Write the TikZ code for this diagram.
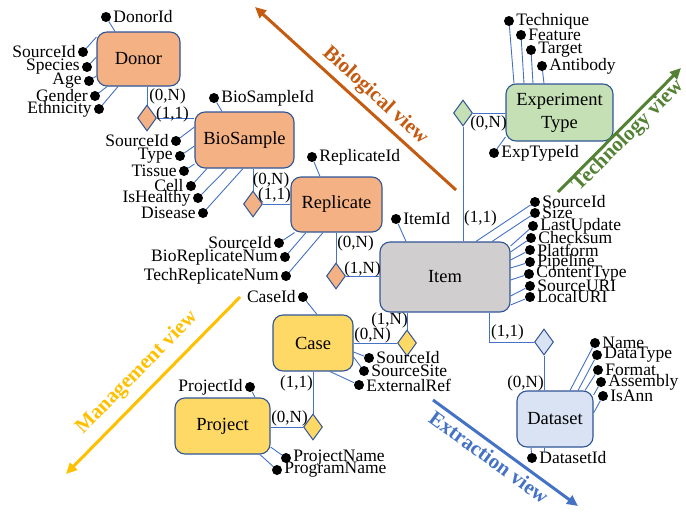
\documentclass[tikz,border=0pt]{standalone}
\usepackage{fontspec}
\setmainfont{Liberation Serif}
\usetikzlibrary{shapes.geometric,arrows.meta}

\definecolor{bord}{RGB}{47,85,151}
\definecolor{connc}{RGB}{68,114,196}
\definecolor{bioC}{RGB}{244,177,131}
\definecolor{itemC}{RGB}{208,206,206}
\definecolor{techC}{RGB}{197,224,180}
\definecolor{mgmtC}{RGB}{255,217,102}
\definecolor{extrC}{RGB}{218,227,243}
\definecolor{bioArrow}{RGB}{197,90,17}
\definecolor{techArrow}{RGB}{84,130,53}
\definecolor{extrArrow}{RGB}{68,114,196}
\definecolor{mgmtArrow}{RGB}{255,192,0}

\begin{document}
\begin{tikzpicture}[x=1pt,y=-1pt,
  entity/.style={rectangle, rounded corners=10pt, draw=bord, line width=1.1pt,
    align=center, font=\fontsize{18.5}{23}\selectfont, inner sep=0pt},
  rel/.style={diamond, draw=bord, line width=1pt, inner sep=0pt,
    minimum width=19pt, minimum height=26pt},
  dot/.style={circle, fill=black, inner sep=0pt, minimum size=10pt},
  attr/.style={font=\fontsize{17.5}{17.5}\selectfont, inner sep=2pt},
  card/.style={font=\fontsize{17}{17}\selectfont, inner sep=0pt},
  conn/.style={draw=connc, line width=0.9pt},
  view/.style={line width=3pt, -{Triangle[length=11pt,width=10pt]}},
  viewlabel/.style={font=\bfseries\fontsize{21}{21}\selectfont, inner sep=0pt}]
\useasboundingbox (0,0) rectangle (686,512);

% ---------- entities ----------
\node[entity, fill=bioC, minimum width=83pt, minimum height=54pt] (donor) at (138.5,59) {Donor};
\node[entity, fill=bioC, minimum width=99pt, minimum height=56pt] (bios) at (244.5,140) {BioSample};
\node[entity, fill=bioC, minimum width=91pt, minimum height=55pt] (repl) at (336.5,204.5) {Replicate};
\node[entity, fill=itemC, minimum width=130pt, minimum height=70pt] (item) at (445,277) {Item};
\node[entity, fill=techC, minimum width=107pt, minimum height=57pt] (expt) at (559.5,112.5) {Experiment\\Type};
\node[entity, fill=extrC, minimum width=76pt, minimum height=56pt] (dset) at (555,419) {Dataset};
\node[entity, fill=mgmtC, minimum width=80pt, minimum height=56pt] (case) at (313,343) {Case};
\node[entity, fill=mgmtC, minimum width=95pt, minimum height=56pt] (proj) at (222.5,426) {Project};

% ---------- relationships ----------
\node[rel, fill=bioC] (r1) at (147,118) {};
\node[rel, fill=bioC] (r2) at (253,204) {};
\node[rel, fill=bioC] (r3) at (336,276) {};
\node[rel, fill=techC] (r4) at (463,113) {};
\node[rel, fill=extrC] (r5) at (544,342) {};
\node[rel, fill=mgmtC] (r6) at (407,343) {};
\node[rel, fill=mgmtC] (r7) at (313,427) {};

\draw[conn] (r1.north) -- (r1.north |- donor.south);
\draw[conn] (r1.east) -- (r1.east -| bios.west);
\draw[conn] (r2.north) -- (r2.north |- bios.south);
\draw[conn] (r2.east) -- (r2.east -| repl.west);
\draw[conn] (r3.north) -- (r3.north |- repl.south);
\draw[conn] (r3.east) -- (r3.east -| item.west);
\draw[conn] (r4.east) -- (r4.east -| expt.west);
\draw[conn] (r4.south) -- (r4.south |- item.north);
\draw[conn] (r5.west) -| ([xshift=44pt]item.south);
\draw[conn] (r5.south) -- (r5.south |- dset.north);
\draw[conn] (r6.west) -- (r6.west -| case.east);
\draw[conn] (r6.north) -- (r6.north |- item.south);
\draw[conn] (r7.north) -- (r7.north |- case.south);
\draw[conn] (r7.west) -- (r7.west -| proj.east);

% ---------- cardinalities ----------
\node[card] (c1a) at (167.5,96) {(0,N)};
\node[card] (c1b) at (172.5,114) {(1,1)};
\node[card] (c2a) at (271,180) {(0,N)};
\node[card] (c2b) at (274.5,195) {(1,1)};
\node[card] (c3a) at (355.5,243) {(0,N)};
\node[card] (c3b) at (362.5,269) {(1,N)};
\node[card] (c4a) at (488.5,123) {(0,N)};
\node[card] (c4b) at (480.5,218) {(1,1)};
\node[card] (c5a) at (507.5,332) {(1,1)};
\node[card] (c5b) at (525.5,383) {(0,N)};
\node[card] (c6a) at (372.5,335) {(0,N)};
\node[card] (c6b) at (389.5,320) {(1,N)};
\node[card] (c7a) at (296.5,383) {(1,1)};
\node[card] (c7b) at (289.5,418) {(0,N)};

% ---------- Donor attributes ----------
\node[dot, label={[attr]right:DonorId}] (d1) at (106,17) {};
\node[dot, label={[attr]left:SourceId}] (d2) at (83,52) {};
\node[dot, label={[attr]left:Species}] (d3) at (87,67) {};
\node[dot, label={[attr]left:Age}] (d4) at (89,81) {};
\node[dot, label={[attr]left:Gender}] (d5) at (95,96) {};
\node[dot, label={[attr]left:Ethnicity}] (d6) at (99,109) {};
\draw[conn] (d1) -- ([xshift=-23.5pt]donor.north);
\draw[conn] (d2) -- ([yshift=22pt]donor.west);
\draw[conn] (d3) -- ([yshift=2pt]donor.west);
\draw[conn] (d4) -- ([yshift=-17pt]donor.west);
\draw[conn] (d5) -- ([xshift=-31.5pt]donor.south);
\draw[conn] (d6) -- ([xshift=-20.5pt]donor.south);

% ---------- BioSample attributes ----------
\node[dot, label={[attr]right:BioSampleId}] (b1) at (214,98) {};
\node[dot, label={[attr]left:SourceId}] (b2) at (176,141) {};
\node[dot, label={[attr]left:Type}] (b3) at (180,156) {};
\node[dot, label={[attr]left:Tissue}] (b4) at (184,171) {};
\node[dot, label={[attr]left:Cell}] (b5) at (191,186) {};
\node[dot, label={[attr]left:IsHealthy}] (b6) at (198,198) {};
\node[dot, label={[attr]left:Disease}] (b7) at (203,213) {};
\draw[conn] (b1) -- ([xshift=-22.5pt]bios.north);
\draw[conn] (b2) -- ([yshift=13pt]bios.west);
\draw[conn] (b3) -- ([yshift=-6pt]bios.west);
\draw[conn] (b4) -- ([yshift=-24pt]bios.west);
\draw[conn] (b5) -- ([xshift=-37.5pt]bios.south);
\draw[conn] (b6) -- ([xshift=-17.5pt]bios.south);
\draw[conn] (b7) -- ([xshift=-1.5pt]bios.south);

% ---------- Replicate attributes ----------
\node[dot, label={[attr]right:ReplicateId}] (p1) at (312,157) {};
\node[dot, label={[attr]left:SourceId}] (p2) at (279,243) {};
\node[dot, label={[attr]left:BioReplicateNum}] (p3) at (285,257) {};
\node[dot, label={[attr]left:TechReplicateNum}] (p4) at (286,276) {};
\draw[conn] (p1) -- ([xshift=-16.5pt]repl.north);
\draw[conn] (p2) -- ([xshift=-42pt]repl.south);
\draw[conn] (p3) -- ([xshift=-30.5pt]repl.south);
\draw[conn] (p4) -- ([xshift=-13.5pt]repl.south);

% ---------- Item attributes ----------
\node[dot, label={[attr]right:ItemId}] (i1) at (396,219) {};
\node[dot, label={[attr]right:SourceId}] (i2) at (535,202) {};
\node[dot, label={[attr]right:Size}] (i3) at (535,213) {};
\node[dot, label={[attr]right:LastUpdate}] (i4) at (533,226) {};
\node[dot, label={[attr]right:Checksum}] (i5) at (531,238) {};
\node[dot, label={[attr]right:Platform}] (i6) at (530,250) {};
\node[dot, label={[attr]right:Pipeline}] (i7) at (530,262) {};
\node[dot, label={[attr]right:ContentType}] (i8) at (529,274) {};
\node[dot, label={[attr]right:SourceURI}] (i9) at (530,286) {};
\node[dot, label={[attr]right:LocalURI}] (i10) at (530,297) {};
\draw[conn] (i1) -- ([xshift=-39pt]item.north);
\draw[conn] (i2) -- ([xshift=31pt]item.north);
\draw[conn] (i3) -- ([xshift=47pt]item.north);
\draw[conn] (i4) -- ([yshift=31pt]item.east);
\draw[conn] (i5) -- ([yshift=25pt]item.east);
\draw[conn] (i6) -- ([yshift=17pt]item.east);
\draw[conn] (i7) -- ([yshift=9pt]item.east);
\draw[conn] (i8) -- ([yshift=-3pt]item.east);
\draw[conn] (i9) -- ([yshift=-19pt]item.east);
\draw[conn] (i10) -- ([yshift=-28pt]item.east);

% ---------- Experiment Type attributes ----------
\node[dot, label={[attr]right:Technique}] (e1) at (509,21) {};
\node[dot, label={[attr]right:Feature}] (e2) at (521,35) {};
\node[dot, label={[attr]right:Target}] (e3) at (531,50) {};
\node[dot, label={[attr]right:Antibody}] (e4) at (542,66) {};
\node[dot, label={[attr]right:ExpTypeId}] (e5) at (494,153) {};
\draw[conn] (e1) -- ([xshift=-45.5pt]expt.north);
\draw[conn] (e2) -- ([xshift=-35.5pt]expt.north);
\draw[conn] (e3) -- ([xshift=-26.5pt]expt.north);
\draw[conn] (e4) -- ([xshift=-15.5pt]expt.north);
\draw[conn] (e5) -- ([yshift=-24.5pt]expt.west);

% ---------- Dataset attributes ----------
\node[dot, label={[attr]right:Name}] (s1) at (595,343) {};
\node[dot, label={[attr]right:DataType}] (s2) at (597,355) {};
\node[dot, label={[attr]right:Format}] (s3) at (598,370) {};
\node[dot, label={[attr]right:Assembly}] (s4) at (601,382) {};
\node[dot, label={[attr]right:IsAnn}] (s5) at (603,396) {};
\node[dot, label={[attr]right:DatasetId}] (s6) at (532,458) {};
\coordinate (s6b) at (544,453);
\draw[conn] (s1) -- ([xshift=15pt]dset.north);
\draw[conn] (s2) -- ([xshift=23pt]dset.north);
\draw[conn] (s3) -- ([xshift=30pt]dset.north);
\draw[conn] (s4) -- ([yshift=24pt]dset.east);
\draw[conn] (s5) -- ([yshift=6pt]dset.east);
\draw[conn] (s6) -- ([xshift=-24pt]dset.south);
\draw[conn] ([xshift=-11pt]dset.south) -- (s6b);

% ---------- Case attributes ----------
\node[dot, label={[attr]left:CaseId}] (k1) at (303,297) {};
\node[dot, label={[attr]right:SourceId}] (k2) at (369,358) {};
\node[dot, label={[attr]right:SourceSite}] (k3) at (364,371) {};
\node[dot, label={[attr]right:ExternalRef}] (k4) at (359,385) {};
\draw[conn] (k1) -- ([xshift=4pt]case.north);
\draw[conn] (k2) -- ([yshift=-9pt]case.east);
\draw[conn] (k3) -- ([yshift=-14pt]case.east);
\draw[conn] (k4) -- ([xshift=17pt]case.south);

% ---------- Project attributes ----------
\node[dot, label={[attr]left:ProjectId}] (j1) at (250,387) {};
\node[dot, label={[attr]right:ProjectName}] (j2) at (286,458) {};
\node[dot, label={[attr]right:ProgramName}] (j3) at (277,470) {};
\draw[conn] (j1) -- ([xshift=32.5pt]proj.north);
\draw[conn] (j2) -- ([yshift=-21pt]proj.east);
\draw[conn] (j3) -- ([xshift=37.5pt]proj.south);

% ---------- views ----------
\coordinate (bioA) at (456,190);  \coordinate (bioB) at (255,7);
\coordinate (techA) at (558,192); \coordinate (techB) at (681,68);
\coordinate (extrA) at (433,400); \coordinate (extrB) at (578,506);
\coordinate (mgmtA) at (240,297); \coordinate (mgmtB) at (66,474);
\draw[view, bioArrow] (bioA) -- (bioB);
\draw[view, techArrow] (techA) -- (techB);
\draw[view, extrArrow] (extrA) -- (extrB);
\draw[view, mgmtArrow] (mgmtA) -- (mgmtB);
\node[viewlabel, text=bioArrow, rotate=-42.3] (bioL) at (375,96) {Biological view};
\node[viewlabel, text=techArrow, rotate=45] (techL) at (628,136) {Technology view};
\node[viewlabel, text=extrArrow, rotate=-36] (extrL) at (489,457) {Extraction view};
\node[viewlabel, text=mgmtArrow, rotate=45.5] (mgmtL) at (137,373) {Management view};
\end{tikzpicture}
\end{document}
